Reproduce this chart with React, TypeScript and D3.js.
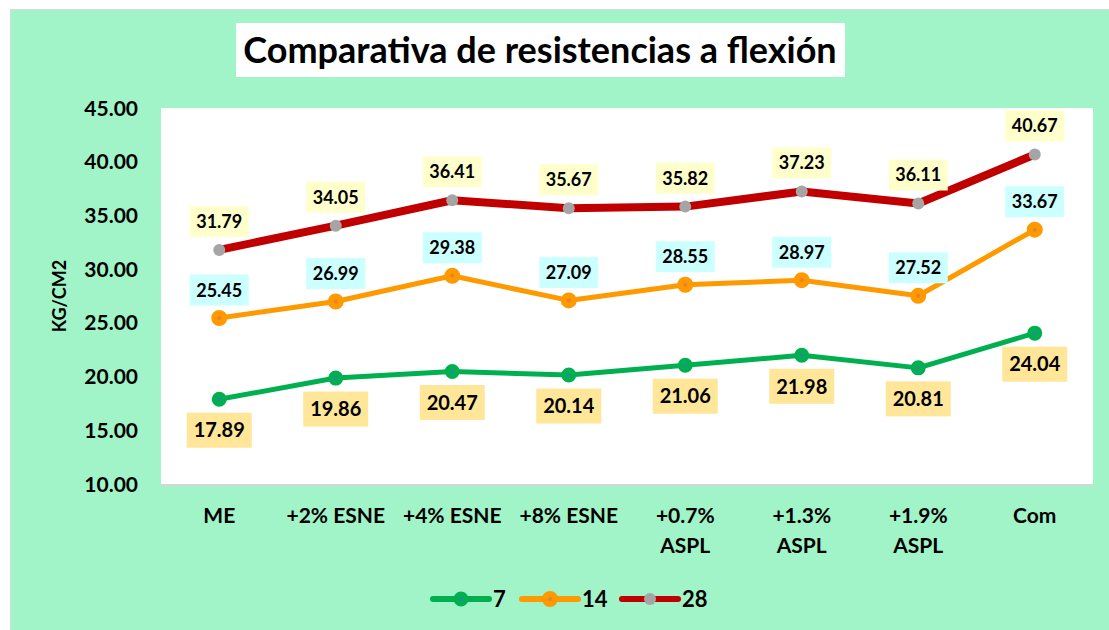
import React from "react";
import * as d3 from "d3";

const categories: string[][] = [
  ["ME"],
  ["+2% ESNE"],
  ["+4% ESNE"],
  ["+8% ESNE"],
  ["+0.7%", "ASPL"],
  ["+1.3%", "ASPL"],
  ["+1.9%", "ASPL"],
  ["Com"],
];
const days7 = [17.89, 19.86, 20.47, 20.14, 21.06, 21.98, 20.81, 24.04];
const days14 = [25.45, 26.99, 29.38, 27.09, 28.55, 28.97, 27.52, 33.67];
const days28 = [31.79, 34.05, 36.41, 35.67, 35.82, 37.23, 36.11, 40.67];
const yTicks = [10, 15, 20, 25, 30, 35, 40, 45];
const seriesNames = ["7", "14", "28"];

const FONT = "Lato, 'Open Sans', sans-serif";

const W = 1109;
const H = 630;
const plot = { left: 161, right: 1093, top: 108, bottom: 484 };

type Series = {
  name: string;
  values: number[];
  color: string;
  lineWidth: number;
  markerR: number;
  markerStroke: number;
  dot: string;
  labelBg: string;
  labelW: number;
  labelH: number;
  labelOffset: number;
  labelFont: number;
};

const series: Series[] = [
  {
    name: seriesNames[0], values: days7, color: "#00B050", lineWidth: 5,
    markerR: 4.5, markerStroke: 6, dot: "#4472C4",
    labelBg: "#FFE699", labelW: 65, labelH: 35, labelOffset: 31, labelFont: 20,
  },
  {
    name: seriesNames[1], values: days14, color: "#FF9900", lineWidth: 5,
    markerR: 5, markerStroke: 6, dot: "#ED7D31",
    labelBg: "#CCFFFF", labelW: 59, labelH: 31, labelOffset: -28, labelFont: 18,
  },
  {
    name: seriesNames[2], values: days28, color: "#C00000", lineWidth: 8,
    markerR: 6, markerStroke: 0, dot: "#A5A5A5",
    labelBg: "#FFFFCC", labelW: 59, labelH: 31, labelOffset: -28.5, labelFont: 18,
  },
];

export default function App() {
  const x = d3
    .scaleBand<number>()
    .domain(categories.map((_, i) => i))
    .range([plot.left, plot.right]);
  const y = d3.scaleLinear().domain([10, 45]).range([plot.bottom, plot.top]);
  const cx = (i: number) => (x(i) as number) + x.bandwidth() / 2;

  const line = d3
    .line<number>()
    .x((_, i) => cx(i))
    .y((d) => y(d));

  const legendItems = [
    { s: series[0], x0: 433 },
    { s: series[1], x0: 522 },
    { s: series[2], x0: 622 },
  ];

  return (
    <svg
      width={W}
      height={H}
      style={{ position: "absolute", left: 0, top: 0 }}
      fontFamily={FONT}
    >
      <rect x={0} y={0} width={W} height={H} fill="#ffffff" />
      <rect x={10.5} y={9.5} width={W} height={H} fill="#A0F4C8" stroke="#D9D9D9" strokeWidth={1} />
      {/* plot area */}
      <rect x={plot.left} y={plot.bottom} width={plot.right - plot.left} height={2} fill="#D0D8D4" />
      <rect x={plot.left} y={plot.top} width={plot.right - plot.left} height={plot.bottom - plot.top} fill="#ffffff" />

      {/* title */}
      <rect x={236} y={23} width={609} height={54} fill="#ffffff" />
      <text x={540} y={63} textAnchor="middle" fontSize={36} fontWeight={700} fill="#000">
        Comparativa de resistencias a flexión
      </text>

      {/* y axis */}
      {yTicks.map((t) => (
        <text key={t} x={138} y={y(t) + 7.5} textAnchor="end" fontSize={21} fontWeight={700} fill="#000">
          {t.toFixed(2)}
        </text>
      ))}
      <text
        transform={`translate(66,${(plot.top + plot.bottom) / 2}) rotate(-90)`}
        textAnchor="middle"
        fontSize={18}
        fontWeight={700}
        fill="#000"
      >
        KG/CM2
      </text>

      {/* x axis */}
      {categories.map((lines, i) => (
        <text key={i} textAnchor="middle" fontSize={21} fontWeight={700} fill="#000">
          {lines.map((l, j) => (
            <tspan key={j} x={cx(i)} y={523 + j * 30}>
              {l}
            </tspan>
          ))}
        </text>
      ))}

      {/* lines */}
      {series.map((s) => (
        <path
          key={"l" + s.name}
          d={line(s.values) || ""}
          fill="none"
          stroke={s.color}
          strokeWidth={s.lineWidth}
          strokeLinejoin="round"
        />
      ))}
      {/* markers */}
      {series.map((s) =>
        s.values.map((v, i) => (
          <circle
            key={"m" + s.name + i}
            cx={cx(i)}
            cy={y(v)}
            r={s.markerR}
            fill={s.dot}
            stroke={s.markerStroke ? s.color : "none"}
            strokeWidth={s.markerStroke}
          />
        ))
      )}
      {/* labels */}
      {series.map((s) =>
        s.values.map((v, i) => {
          const lx = cx(i);
          const ly = y(v) + s.labelOffset;
          return (
            <g key={"t" + s.name + i}>
              <rect x={lx - s.labelW / 2} y={ly - s.labelH / 2} width={s.labelW} height={s.labelH} fill={s.labelBg} />
              <text x={lx} y={ly + s.labelFont * 0.36} textAnchor="middle" fontSize={s.labelFont} fontWeight={700} fill="#000">
                {v.toFixed(2)}
              </text>
            </g>
          );
        })
      )}

      {/* legend */}
      {legendItems.map(({ s, x0 }) => (
        <g key={"lg" + s.name}>
          <line x1={x0} x2={x0 + 56} y1={599} y2={599} stroke={s.color} strokeWidth={6} strokeLinecap="round" />
          <circle
            cx={x0 + 28}
            cy={599}
            r={s.markerR}
            fill={s.dot}
            stroke={s.markerStroke ? s.color : "none"}
            strokeWidth={s.markerStroke}
          />
          <text x={x0 + 60} y={606.5} fontSize={22} fontWeight={700} fill="#000">
            {s.name}
          </text>
        </g>
      ))}
    </svg>
  );
}
